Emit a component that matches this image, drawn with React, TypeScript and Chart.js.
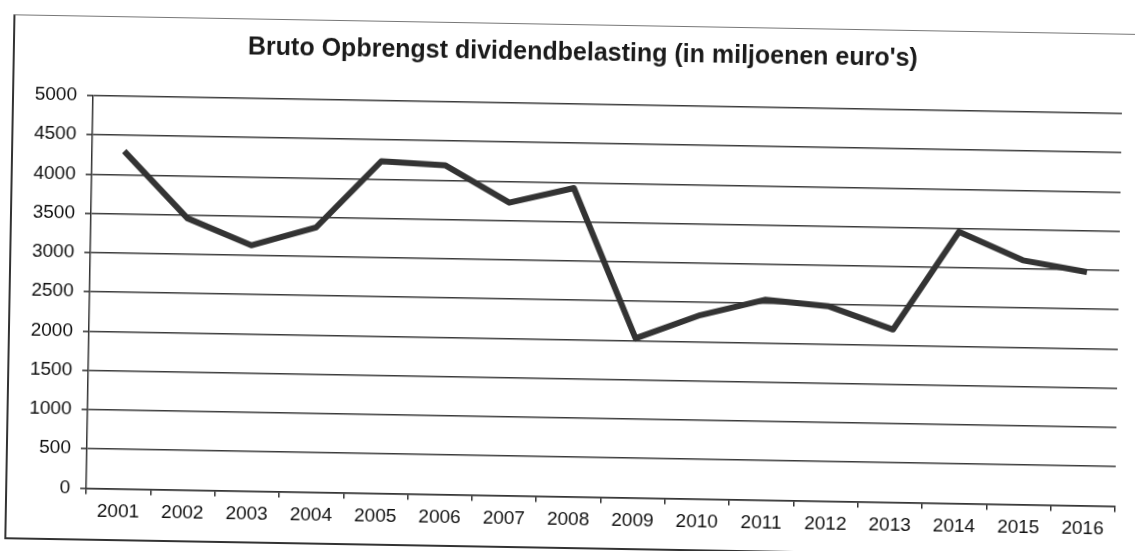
import React, { useEffect, useRef } from "react";
import { Chart, registerables } from "chart.js";

Chart.register(...registerables);

const years = ["2001","2002","2003","2004","2005","2006","2007","2008","2009","2010","2011","2012","2013","2014","2015","2016"];
const revenue = [4300, 3460, 3130, 3370, 4230, 4190, 3730, 3930, 2030, 2340, 2550, 2480, 2200, 3460, 3110, 2975];
const yTicksMin = 0;
const yTicksMax = 5000;
const yTickStep = 500;
const titleText = "Bruto Opbrengst dividendbelasting (in miljoenen euro's)";

const FONT = "'Liberation Sans', Arial, sans-serif";

const titlePlugin = {
  id: "fixedTitle",
  afterDraw(chart: any) {
    const ctx = chart.ctx;
    ctx.save();
    ctx.font = `bold 25px ${FONT}`;
    ctx.fillStyle = "#1a1a1a";
    ctx.textAlign = "center";
    ctx.textBaseline = "middle";
    ctx.fillText(titleText, 579, 53);
    ctx.restore();
  },
};

export default function App() {
  const ref = useRef<HTMLCanvasElement | null>(null);
  useEffect(() => {
    if (!ref.current) return;
    const chart = new Chart(ref.current, {
      type: "line",
      data: {
        labels: years,
        datasets: [
          {
            data: revenue,
            borderColor: "#333333",
            borderWidth: 6,
            pointRadius: 0,
            tension: 0,
            borderJoinStyle: "round",
            borderCapStyle: "butt",
            fill: false,
          },
        ],
      },
      options: {
        animation: false,
        responsive: false,
        layout: { padding: { left: 10, right: 16, top: 104, bottom: 14.5 } },
        plugins: {
          legend: { display: false },
          tooltip: { enabled: false },
          title: { display: false },
        },
        scales: {
          x: {
            offset: true,
            afterFit: (s: any) => { s.height = 40; },
            grid: { offset: true, drawOnChartArea: false, drawTicks: true, tickLength: 6, color: "#333", lineWidth: 1.5 },
            border: { display: true, color: "#333", width: 1.5 },
            ticks: {
              autoSkip: false,
              maxRotation: 0,
              padding: 5.6,
              color: "#111",
              font: { family: FONT, size: 19 },
            },
          },
          y: {
            min: yTicksMin,
            max: yTicksMax,
            afterFit: (s: any) => { s.width = 80; },
            grid: { color: "#3a3a3a", lineWidth: 1.6, tickLength: 6, drawTicks: true },
            border: { display: true, color: "#333", width: 1.5 },
            ticks: {
              stepSize: yTickStep,
              padding: 10,
              color: "#111",
              font: { family: FONT, size: 19 },
              callback: (v: any) => String(v),
            },
          },
        },
      },
      plugins: [titlePlugin],
    });
    return () => chart.destroy();
  }, []);

  return (
    <div
      style={{
        position: "fixed",
        left: 0,
        top: 0,
        width: 1135,
        height: 551,
        transform: "rotate(1deg)",
        transformOrigin: "567px 275px",
        background: "#fff",
      }}
    >
      <div
        style={{
          position: "absolute",
          left: 9,
          top: 24,
          width: 1140,
          height: 522,
          borderLeft: "2px solid #333",
          borderTop: "1px solid #777",
          borderBottom: "2px solid #333",
        }}
      />
      <canvas
        ref={ref}
        width={1135}
        height={551}
        style={{ position: "absolute", left: 0, top: 0, width: 1135, height: 551 }}
      />
    </div>
  );
}
